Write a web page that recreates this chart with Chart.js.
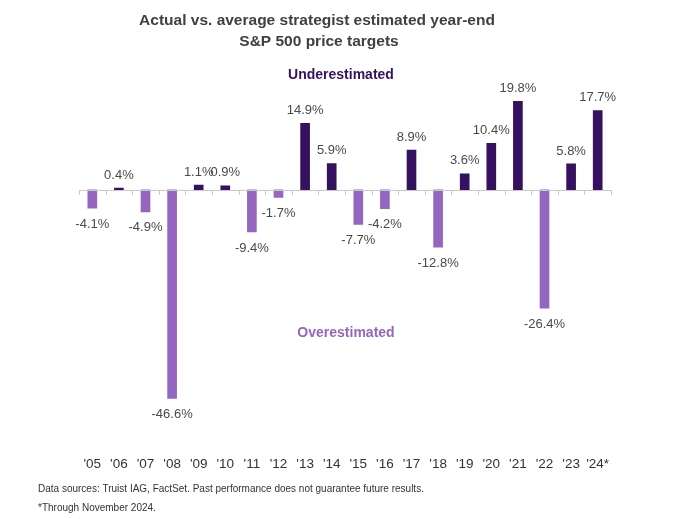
<!DOCTYPE html>
<html>
<head>
<meta charset="utf-8">
<script src="https://cdn.jsdelivr.net/npm/chart.js@4.4.1/dist/chart.umd.min.js"></script>
<style>
  body { margin: 0; background: #fff; }
  #wrap { width: 689px; height: 519px; position: relative; }
</style>
</head>
<body>
<div id="wrap"><canvas id="spChart"></canvas></div>
<script>
// 年份与实际值相对预测值的偏差 (%)
const years = ["'05", "'06", "'07", "'08", "'09", "'10", "'11", "'12", "'13", "'14",
               "'15", "'16", "'17", "'18", "'19", "'20", "'21", "'22", "'23", "'24*"];
const diffs = [-4.1, 0.4, -4.9, -46.6, 1.1, 0.9, -9.4, -1.7, 14.9, 5.9,
               -7.7, -4.2, 8.9, -12.8, 3.6, 10.4, 19.8, -26.4, 5.8, 17.7];
const titleLines = ['Actual vs. average strategist estimated year-end', 'S&P 500 price targets'];
const notes = ['Data sources: Truist IAG, FactSet. Past performance does not guarantee future results.',
               '*Through November 2024.'];

const darkPurple = '#35115f';
const lightPurple = '#9466c0';

// 标题、注释、零线和数值标签
const extras = {
    id: 'extras',
    afterDatasetsDraw(chart) {
        const ctx = chart.ctx;
        const area = chart.chartArea;
        const y = chart.scales.y;
        const y0 = y.getPixelForValue(0);
        ctx.save();

        // zero line + ticks
        ctx.strokeStyle = '#c9c9c9';
        ctx.lineWidth = 1;
        ctx.beginPath();
        ctx.moveTo(area.left, Math.round(y0) + 0.5);
        ctx.lineTo(area.right, Math.round(y0) + 0.5);
        const step = (area.right - area.left) / years.length;
        for (let i = 0; i <= years.length; i++) {
            const tx = Math.round(area.left + i * step) + 0.5;
            ctx.moveTo(tx, Math.round(y0));
            ctx.lineTo(tx, Math.round(y0) + 5);
        }
        ctx.stroke();

        // value labels
        ctx.fillStyle = '#4a4a4a';
        ctx.font = '13px "Liberation Sans", Arial, sans-serif';
        ctx.textAlign = 'center';
        ctx.textBaseline = 'middle';
        chart.getDatasetMeta(0).data.forEach((bar, i) => {
            const v = diffs[i];
            const ly = v >= 0 ? bar.y - 13 : bar.y + 16;
            ctx.fillText(v.toFixed(1) + '%', bar.x, ly);
        });

        // title
        ctx.fillStyle = '#404040';
        ctx.font = 'bold 15.5px "Liberation Sans", Arial, sans-serif';
        ctx.fillText(titleLines[0], 317, 21);
        ctx.fillText(titleLines[1], 319, 42);

        ctx.font = 'bold 14px "Liberation Sans", Arial, sans-serif';
        ctx.fillStyle = darkPurple;
        ctx.fillText('Underestimated', 341, 75);
        ctx.fillStyle = lightPurple;
        ctx.fillText('Overestimated', 346, 333);

        // footnotes
        ctx.fillStyle = '#333';
        ctx.font = '10px "Liberation Sans", Arial, sans-serif';
        ctx.textAlign = 'left';
        ctx.fillText(notes[0], 38, 489);
        ctx.fillText(notes[1], 38, 508);
        ctx.restore();
    }
};

const ctx = document.getElementById('spChart').getContext('2d');
new Chart(ctx, {
    type: 'bar',
    data: {
        labels: years,
        datasets: [{
            data: diffs,
            backgroundColor: diffs.map(v => v >= 0 ? darkPurple : lightPurple),
            barThickness: 9
        }]
    },
    options: {
        responsive: true,
        maintainAspectRatio: false,
        animation: false,
        layout: { padding: { left: 79, right: 78, top: 78, bottom: 43 } },
        plugins: {
            legend: { display: false },
            tooltip: { enabled: false }
        },
        scales: {
            x: {
                grid: { display: false, drawTicks: false },
                border: { display: false },
                ticks: {
                    color: '#333',
                    padding: 4,
                    maxRotation: 0,
                    minRotation: 0,
                    autoSkip: false,
                    font: { size: 13.5, family: '"Liberation Sans", Arial, sans-serif' }
                }
            },
            y: {
                display: false,
                min: -58.5,
                max: 25
            }
        }
    },
    plugins: [extras]
});
</script>
</body>
</html>
